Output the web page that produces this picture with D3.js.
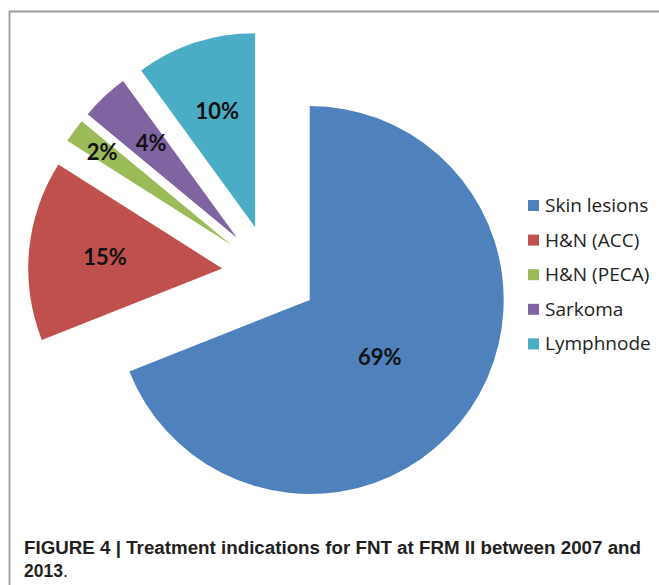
<!DOCTYPE html>
<html>
<head>
<meta charset="utf-8">
<script src="https://cdn.jsdelivr.net/npm/d3@7"></script>
<style>
  html, body { margin: 0; padding: 0; background: #fff; }
  svg { display: block; }
</style>
</head>
<body>
<svg id="chart" width="659" height="585"></svg>
<script>
// ---- data ----
const categories = ["Skin lesions", "H&N (ACC)", "H&N (PECA)", "Sarkoma", "Lymphnode"];
const values = [69, 15, 2, 4, 10];
const labels = ["69%", "15%", "2%", "4%", "10%"];
const colors = ["#4F81BD", "#C0504D", "#9BBB59", "#8064A2", "#4BACC6"];
const captionBold = "FIGURE 4 | Treatment indications for FNT at FRM II between 2007 and";
const captionLine2 = "2013";

// ---- layout / style ----
const W = 659, H = 585;
const cx = 270, cy = 273, R = 194, explode = 48;
// label placement per slice: fraction of radius from the slice apex, angle shift in degrees
const labelFrac = [0.465, 0.607, 0.82, 0.66, 0.632];
const labelShift = [4.8, 0.4, -0.2, 1.0, 0];

const svg = d3.select("#chart");

// frame
svg.append("path")
  .attr("d", `M9.5,${H} L9.5,11.5 L${W},11.5`)
  .attr("fill", "none")
  .attr("stroke", "#9a9a9a")
  .attr("stroke-width", 1.8);

const pie = d3.pie().sort(null).value(d => d).startAngle(0).endAngle(2 * Math.PI);
const arcs = pie(values);
const arc = d3.arc().innerRadius(0).outerRadius(R);

const g = svg.append("g").attr("transform", `translate(${cx},${cy})`);

arcs.forEach((a, i) => {
  const mid = (a.startAngle + a.endAngle) / 2;
  const ox = explode * Math.sin(mid), oy = -explode * Math.cos(mid);
  const sg = g.append("g").attr("transform", `translate(${ox},${oy})`);
  sg.append("path").attr("d", arc(a)).attr("fill", colors[i]);
  const la = mid + labelShift[i] * Math.PI / 180;
  const lr = R * labelFrac[i];
  sg.append("text")
    .attr("x", lr * Math.sin(la))
    .attr("y", -lr * Math.cos(la))
    .attr("dy", "0.36em")
    .attr("text-anchor", "middle")
    .attr("font-family", "Lato, 'Open Sans', sans-serif")
    .attr("font-weight", "bold")
    .attr("font-size", 22)
    .attr("fill", "#111")
    .text(labels[i]);
});

// legend
const lg = svg.append("g");
categories.forEach((c, i) => {
  const y = 205.5 + i * 34.6;
  lg.append("rect")
    .attr("x", 528).attr("y", y - 5.5)
    .attr("width", 11).attr("height", 11)
    .attr("fill", colors[i]);
  lg.append("text")
    .attr("x", 545).attr("y", y + 6.5)
    .attr("font-family", "'Open Sans', sans-serif")
    .attr("font-size", 19)
    .attr("fill", "#222")
    .text(c);
});

// caption
const cap = svg.append("g")
  .attr("font-family", "'Liberation Sans Narrow', 'Arial Narrow', 'Liberation Sans', sans-serif")
  .attr("font-size", 17.5)
  .attr("fill", "#231f20");
cap.append("text")
  .attr("x", 24).attr("y", 553.5)
  .attr("font-weight", "bold")
  .attr("textLength", 617)
  .attr("lengthAdjust", "spacingAndGlyphs")
  .text(captionBold);
const t2 = cap.append("text").attr("x", 24).attr("y", 577);
t2.append("tspan").attr("font-weight", "bold").text(captionLine2);
t2.append("tspan").text(".");
</script>
</body>
</html>
